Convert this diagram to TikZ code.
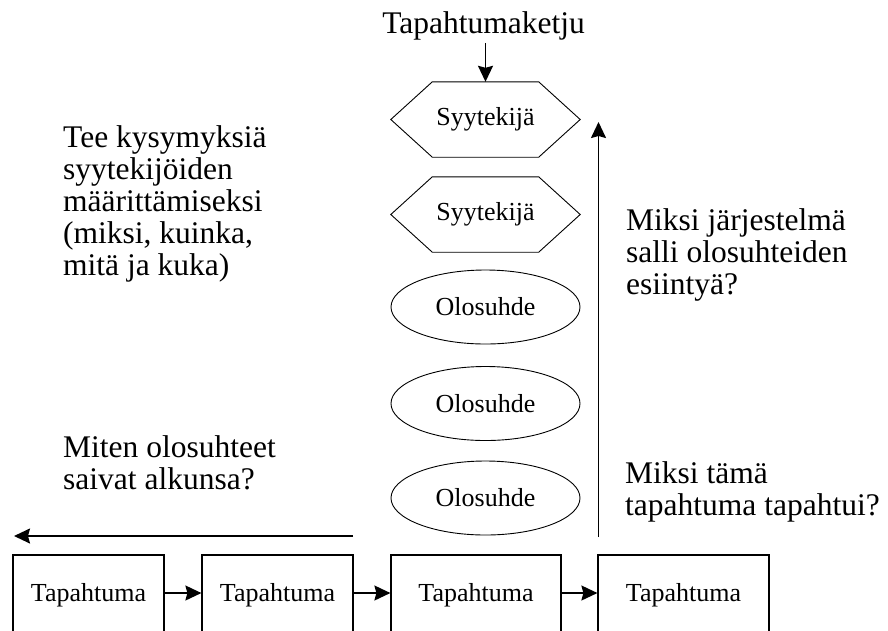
\documentclass[tikz,border=0pt]{standalone}
\usepackage{fontspec}
\setmainfont{Liberation Serif}
\usetikzlibrary{arrows.meta,shapes.geometric}

\begin{document}
\begin{tikzpicture}[x=1pt,y=-1pt,
  big/.style={font=\fontsize{31.5}{32}\selectfont, inner sep=0pt, anchor=base west},
  small/.style={font=\fontsize{26}{26}\selectfont},
  conn/.style={line width=1.7pt, -{Stealth[length=16pt,width=15pt,inset=2pt]}},
  event/.style={small, draw, line width=1.2pt, minimum height=80pt, inner sep=0pt},
  cause/.style={small, minimum width=106pt, minimum height=75pt, inner sep=0pt},
  condition/.style={small, draw, line width=0.9pt, ellipse, minimum width=189pt,
    minimum height=74pt, inner sep=0pt},
  outline/.style={line width=0.9pt},
]
\useasboundingbox (0,0) rectangle (888,630);
\clip (0,0) rectangle (888,630);

% chain heading
\node[big, anchor=base] (title) at (483.5,33) {Tapahtumaketju};

% causal factors (hexagons) and conditions (ellipses)
\node[cause] (s1) at (485.5,119.5) {Syytekijä};
\node[cause] (s2) at (485.5,214.5) {Syytekijä};
\foreach \n in {s1,s2}
  \draw[outline] (\n.north west) -- (\n.north east) -- ([xshift=41.5pt]\n.east)
    -- (\n.south east) -- (\n.south west) -- ([xshift=-41.5pt]\n.west) -- cycle;
\node[condition] (c1) at (485.5,307) {Olosuhde};
\node[condition] (c2) at (485.5,403.5) {Olosuhde};
\node[condition] (c3) at (485.5,498) {Olosuhde};

\draw[conn] ([yshift=-3pt]title.south -| s1.north) -- (s1.north);

% events (their lower edges run past the bottom of the page)
\node[event, minimum width=151pt] (e1) at (88.5,595) {Tapahtuma};
\node[event, minimum width=151pt] (e2) at (277.5,595) {Tapahtuma};
\node[event, minimum width=170pt] (e3) at (476,595) {Tapahtuma};
\node[event, minimum width=171pt] (e4) at (683.5,595) {Tapahtuma};
\draw[conn] ([yshift=2pt]e1.east) -- ([yshift=2pt]e2.west);
\draw[conn] ([yshift=2pt]e2.east) -- ([yshift=2pt]e3.west);
\draw[conn] ([yshift=2pt]e3.east) -- ([yshift=2pt]e4.west);

% direction arrows
\coordinate (upfrom) at (598.5,537);
\coordinate (upto) at (598.5,122);
\draw[conn] (upfrom) -- (upto);
\coordinate (backfrom) at (353,536);
\coordinate (backto) at (14,536);
\draw[conn] (backfrom) -- (backto);

% questions
\node[big] (ask) at (63,147) {\begin{tabular}[t]{@{}l@{}}Tee kysymyksiä\\
  syytekijöiden\\ määrittämiseksi\\ (miksi, kuinka,\\ mitä ja kuka)\end{tabular}};
\node[big] (how) at (63,457) {\begin{tabular}[t]{@{}l@{}}Miten olosuhteet\\
  saivat alkunsa?\end{tabular}};
\node[big] (system) at (626,230) {\begin{tabular}[t]{@{}l@{}}Miksi järjestelmä\\
  salli olosuhteiden\\ esiintyä?\end{tabular}};
\node[big] (why) at (625,483) {\begin{tabular}[t]{@{}l@{}}Miksi tämä\\
  tapahtuma tapahtui?\end{tabular}};
\end{tikzpicture}
\end{document}
